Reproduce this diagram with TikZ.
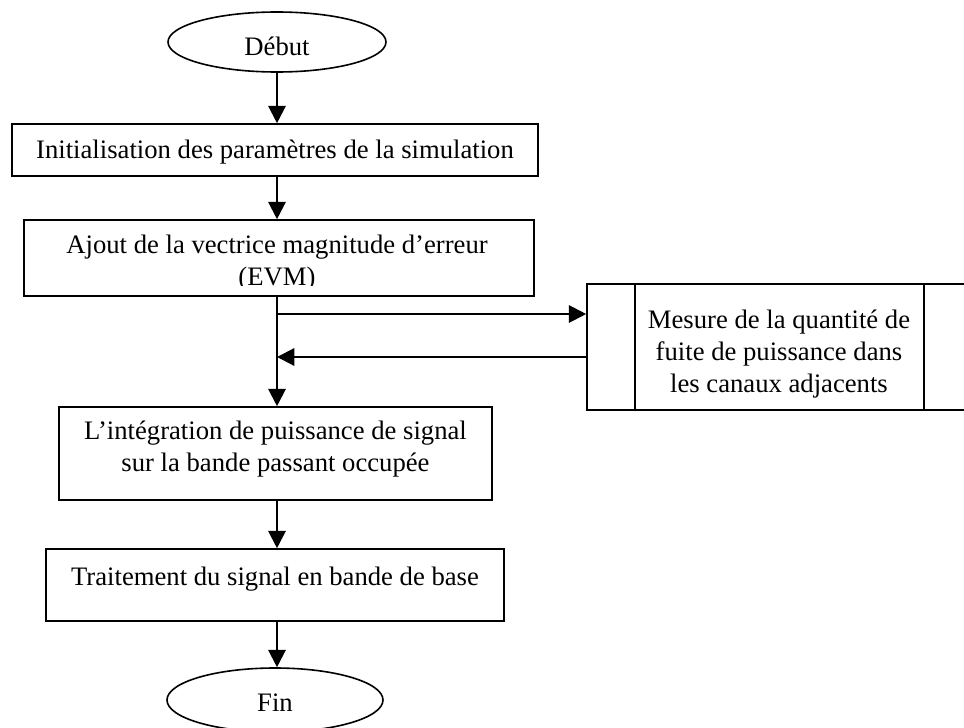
\documentclass[tikz,border=0pt]{standalone}
\usepackage{fontspec}
\setmainfont{Liberation Serif}
\usetikzlibrary{arrows.meta,shapes.geometric}

\begin{document}
\begin{tikzpicture}[x=0.75pt,y=-0.75pt,
  txt/.style={font=\fontsize{20}{24}\selectfont, align=center, inner sep=0pt},
  procbox/.style={draw, line width=1.2pt, rectangle, inner sep=0pt},
  term/.style={draw, ellipse, line width=1.2pt, inner sep=0pt},
  flow/.style={line width=1.6pt, -{Triangle[length=13pt,width=13pt]}}]

\useasboundingbox (0,0) rectangle (964,728);
\clip (0,0) rectangle (964,728);

% main vertical axis of the flow
\coordinate (spine) at (277,0);

% terminals
\node[term, minimum width=163.5pt, minimum height=45pt] (debut) at (277,42) {};
\node[txt] (debuttxt) at (277,46) {Début};
\node[term, minimum width=162pt, minimum height=48pt] (fin) at (275,700) {};
\node[txt] (fintxt) at (275,703) {Fin};

% process boxes
\node[procbox, minimum width=394.5pt, minimum height=39pt] (init) at (275,150) {};
\node[txt] (inittxt) at (275,152) {Initialisation des paramètres de la simulation};

\node[procbox, minimum width=382.5pt, minimum height=57pt] (ajout) at (279,258) {};
\begin{scope}
  \clip (24,220) rectangle (534,285);
  \node[txt] (ajouttxt) at (277,263) {Ajout de la vectrice magnitude d’erreur\\(EVM)};
\end{scope}

\node[procbox, minimum width=324.75pt, minimum height=69.75pt] (integ) at (275.5,453.5) {};
\node[txt] (integtxt) at (275.5,449) {L’intégration de puissance de signal\\sur la bande passant occupée};

\node[procbox, minimum width=343.5pt, minimum height=54pt] (trait) at (275,585) {};
\node[txt] (traittxt) at (275,579) {Traitement du signal en bande de base};

% predefined process on the right
\node[procbox, minimum width=291pt, minimum height=94.5pt] (mesure) at (781,347) {};
\draw[line width=1.2pt] (mesure.north -| 635,0) -- (mesure.south -| 635,0);
\draw[line width=1.2pt] (mesure.north -| 924,0) -- (mesure.south -| 924,0);
\node[txt] (mesuretxt) at (779,354) {Mesure de la quantité de\\fuite de puissance dans\\les canaux adjacents};

% connectors
\coordinate (tap) at (277,314);
\coordinate (ret) at (277,357);
\draw[flow] (debut.south -| spine) -- (init.north -| spine);
\draw[flow] (init.south -| spine) -- (ajout.north -| spine);
\draw[flow] (ajout.south -| spine) -- (integ.north -| spine);
\draw[flow] (tap) -- (tap -| mesure.west);
\draw[flow] (mesure.west |- ret) -- (ret);
\draw[flow] (integ.south -| spine) -- (trait.north -| spine);
\draw[flow] (trait.south -| spine) -- (fin.north -| spine);
\end{tikzpicture}
\end{document}
